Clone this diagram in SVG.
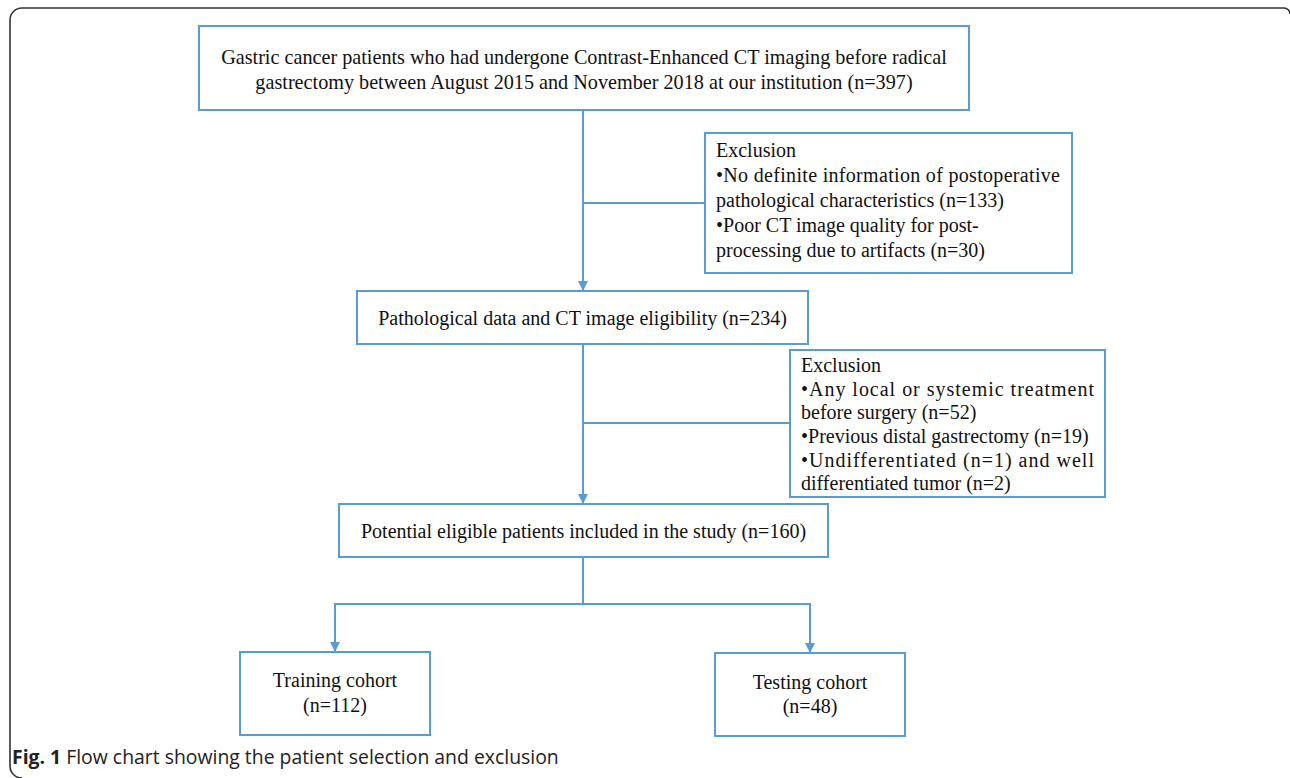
<svg xmlns="http://www.w3.org/2000/svg" width="1290" height="778" viewBox="0 0 1290 778">
<style>
.box{fill:#fff;stroke:#5B9BD5;stroke-width:2}
.t{font-family:"Liberation Serif","Times New Roman",serif;font-size:20px;fill:#111}
.t1{font-size:20.2px}
.c{text-anchor:middle}
.ln{fill:none;stroke:#5B9BD5;stroke-width:2}
.cap{font-family:"Open Sans","Noto Sans",sans-serif;font-size:19.4px;fill:#222}
</style>
<defs>
<marker id="ah" viewBox="0 0 10 10" refX="9" refY="5" markerWidth="10" markerHeight="10" markerUnits="userSpaceOnUse" orient="auto">
<path d="M0,0 L10,5 L0,10 z" fill="#5B9BD5"/>
</marker>
</defs>
<rect width="1290" height="778" fill="#fff"/>
<path d="M1290,14 A6,6 0 0 0 1284,8 H22 A12,12 0 0 0 10,20 V766 A12,12 0 0 0 22,778" fill="none" stroke="#333" stroke-width="1.6"/>
<g id="connectors">
<path class="ln" d="M583,110 V290" marker-end="url(#ah)"/>
<path class="ln" d="M583,203 H705"/>
<path class="ln" d="M583,344 V503" marker-end="url(#ah)"/>
<path class="ln" d="M583,423 H790"/>
<path class="ln" d="M583,557 V604"/>
<path class="ln" d="M335,604 H810"/>
<path class="ln" d="M335,603 V651" marker-end="url(#ah)"/>
<path class="ln" d="M810,603 V652" marker-end="url(#ah)"/>
</g>
<g id="n1">
<rect class="box" x="199" y="26" width="770" height="84"/>
<text class="t t1 c" x="584" y="64">Gastric cancer patients who had undergone Contrast-Enhanced CT imaging before radical</text>
<text class="t t1 c" x="584" y="89">gastrectomy between August 2015 and November 2018 at our institution (n=397)</text>
</g>
<g id="ex1">
<rect class="box" x="705" y="133" width="367" height="140"/>
<text class="t" x="716" y="157">Exclusion</text>
<text class="t" x="716" y="182" textLength="344" lengthAdjust="spacing">•No definite information of postoperative</text>
<text class="t" x="716" y="207">pathological characteristics (n=133)</text>
<text class="t" x="716" y="232">•Poor CT image quality for post-</text>
<text class="t" x="716" y="257">processing due to artifacts (n=30)</text>
</g>
<g id="n2">
<rect class="box" x="357" y="291" width="451" height="53"/>
<text class="t c" x="582.5" y="325">Pathological data and CT image eligibility (n=234)</text>
</g>
<g id="ex2">
<rect class="box" x="790" y="350" width="315" height="147"/>
<text class="t" x="801" y="372">Exclusion</text>
<text class="t" x="801" y="396" textLength="293" lengthAdjust="spacing">•Any local or systemic treatment</text>
<text class="t" x="801" y="419">before surgery (n=52)</text>
<text class="t" x="801" y="443">•Previous distal gastrectomy (n=19)</text>
<text class="t" x="801" y="467" textLength="293" lengthAdjust="spacing">•Undifferentiated (n=1) and well</text>
<text class="t" x="801" y="490">differentiated tumor (n=2)</text>
</g>
<g id="n3">
<rect class="box" x="339" y="504" width="489" height="53"/>
<text class="t c" x="583.5" y="538">Potential eligible patients included in the study (n=160)</text>
</g>
<g id="train">
<rect class="box" x="240" y="652" width="190" height="83"/>
<text class="t c" x="335" y="687">Training cohort</text>
<text class="t c" x="335" y="712">(n=112)</text>
</g>
<g id="test">
<rect class="box" x="715" y="653" width="190" height="83"/>
<text class="t c" x="810" y="689">Testing cohort</text>
<text class="t c" x="810" y="713">(n=48)</text>
</g>
<text class="cap" x="12" y="764"><tspan font-weight="bold">Fig. 1</tspan> Flow chart showing the patient selection and exclusion</text>
</svg>
